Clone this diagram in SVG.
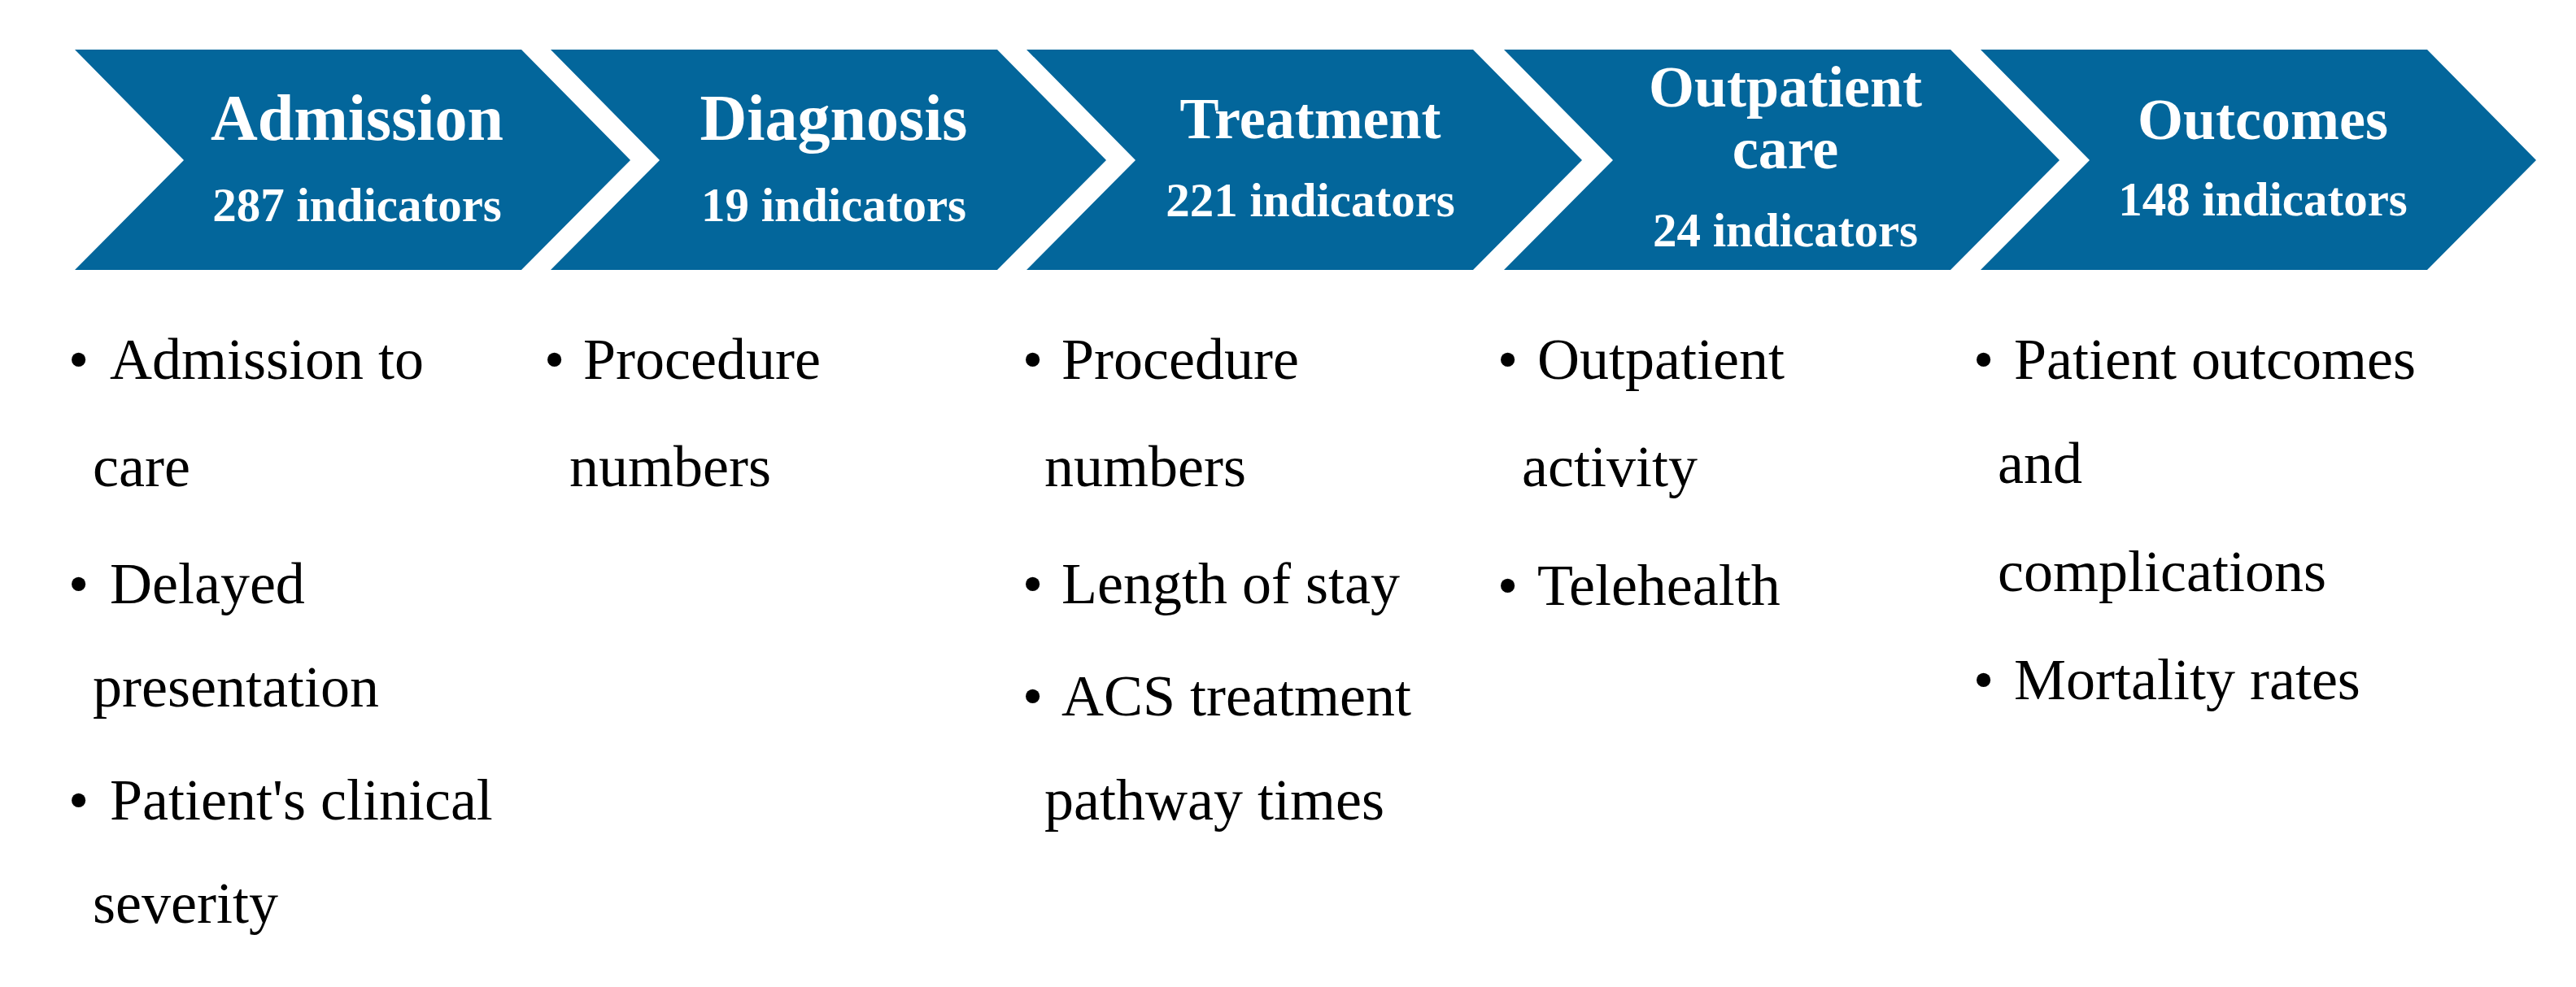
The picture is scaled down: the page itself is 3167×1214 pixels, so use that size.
<svg xmlns="http://www.w3.org/2000/svg" width="3167" height="1214" viewBox="0 0 3167 1214">
<style>
.chev{fill:#03669b}
.t80{font-family:"Liberation Serif","Times New Roman",serif;font-weight:bold;font-size:80px;fill:#fff;text-anchor:middle}
.t72{font-family:"Liberation Serif","Times New Roman",serif;font-weight:bold;font-size:72px;fill:#fff;text-anchor:middle}
.ind{font-family:"Liberation Serif","Times New Roman",serif;font-weight:bold;font-size:59px;fill:#fff;text-anchor:middle}
.li{font-family:"Liberation Serif","Times New Roman",serif;font-size:72px;fill:#000}
</style>
<rect width="3167" height="1214" fill="#fff"/>
<g id="connectors"/>
<g id="node-admission">
<polygon class="chev" points="92,61 641,61 775,197 641,332 92,332 226,197"/>
<text class="t80" x="439" y="172">Admission</text>
<text class="ind" x="439" y="272">287 indicators</text>
</g>
<g id="node-diagnosis">
<polygon class="chev" points="677,61 1226,61 1360,197 1226,332 677,332 811,197"/>
<text class="t80" x="1025" y="172">Diagnosis</text>
<text class="ind" x="1025" y="272">19 indicators</text>
</g>
<g id="node-treatment">
<polygon class="chev" points="1262,61 1811,61 1945,197 1811,332 1262,332 1396,197"/>
<text class="t72" x="1611" y="170">Treatment</text>
<text class="ind" x="1611" y="266">221 indicators</text>
</g>
<g id="node-outpatient">
<polygon class="chev" points="1849,61 2398,61 2532,197 2398,332 1849,332 1983,197"/>
<text class="t72" x="2195" y="131">Outpatient</text>
<text class="t72" x="2195" y="207">care</text>
<text class="ind" x="2195" y="303">24 indicators</text>
</g>
<g id="node-outcomes">
<polygon class="chev" points="2435,61 2984,61 3118,197 2984,332 2435,332 2569,197"/>
<text class="t72" x="2782" y="171">Outcomes</text>
<text class="ind" x="2782" y="265">148 indicators</text>
</g>
<g id="list-admission" class="li">
<text x="84" y="466">•</text><text x="135" y="466">Admission to</text>
<text x="114" y="598">care</text>
<text x="84" y="742">•</text><text x="135" y="742">Delayed</text>
<text x="114" y="869">presentation</text>
<text x="84" y="1008">•</text><text x="135" y="1008">Patient's clinical</text>
<text x="114" y="1135">severity</text>
</g>
<g id="list-diagnosis" class="li">
<text x="669" y="466">•</text><text x="717" y="466">Procedure</text>
<text x="700" y="598">numbers</text>
</g>
<g id="list-treatment" class="li">
<text x="1257" y="466">•</text><text x="1305" y="466">Procedure</text>
<text x="1284" y="598">numbers</text>
<text x="1257" y="742">•</text><text x="1305" y="742">Length of stay</text>
<text x="1257" y="880">•</text><text x="1305" y="880">ACS treatment</text>
<text x="1284" y="1008">pathway times</text>
</g>
<g id="list-outpatient" class="li">
<text x="1841" y="466">•</text><text x="1890" y="466">Outpatient</text>
<text x="1871" y="598">activity</text>
<text x="1841" y="744">•</text><text x="1890" y="744">Telehealth</text>
</g>
<g id="list-outcomes" class="li">
<text x="2426" y="466">•</text><text x="2476" y="466">Patient outcomes</text>
<text x="2456" y="594">and</text>
<text x="2456" y="727">complications</text>
<text x="2426" y="860">•</text><text x="2476" y="860">Mortality rates</text>
</g>
</svg>
